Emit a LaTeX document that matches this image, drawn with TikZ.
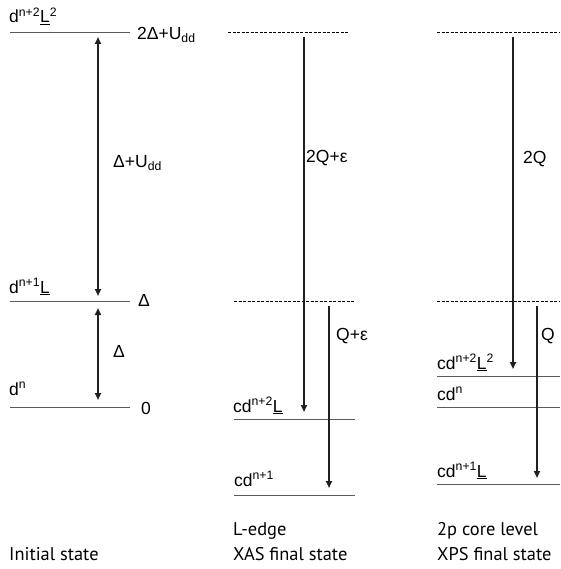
\documentclass[tikz,border=0pt]{standalone}
\usepackage{fontspec}
\setmainfont{Liberation Sans}
\newfontfamily\captionfont{PT Sans}
\usetikzlibrary{arrows.meta}
\definecolor{LevelGray}{HTML}{5A5A5A}
\definecolor{ArrowInk}{HTML}{231F20}
\newcommand{\Lbar}{\underline{L}}
\tikzset{
  level/.style={LevelGray,line width=0.9pt},
  virtual/.style={black,line width=0.9pt,dash pattern=on 3pt off 1.5pt},
  jump/.style={ArrowInk,line width=1.9pt,-{Triangle[length=7pt,width=6pt]}},
  twoway/.style={ArrowInk,line width=1.9pt,
    {Triangle[length=7pt,width=6pt]}-{Triangle[length=7pt,width=6pt]}},
  lbl/.style={inner sep=0pt,anchor=base west,font=\fontsize{17.5}{19}\selectfont},
  captext/.style={inner sep=0pt,anchor=base west,
    font=\captionfont\fontsize{18.4}{21}\selectfont}
}
\begin{document}
\begin{tikzpicture}[x=1pt,y=-1pt]
        \useasboundingbox (0,0) rectangle (560,569);

        \draw[level] (10,32) -- (130,32);
        \draw[level] (10,301) -- (130,301);
        \draw[level] (10,407) -- (130,407);

        \node[lbl] (ini-top) at (9,23) {d\textsuperscript{n+2}\Lbar\textsuperscript{2}};
        \node[lbl] (ini-mid) at (9,293) {d\textsuperscript{n+1}\Lbar};
        \node[lbl] (ini-low) at (9,395) {d\textsuperscript{n}};
        \node[lbl] (e-top) at (137,40) {2Δ+U\textsubscript{dd}};
        \node[lbl] (e-mid) at (138,306) {Δ};
        \node[lbl] (e-low) at (141,414) {0};

        \coordinate (ini-a1) at (98,37);
        \coordinate (ini-a2) at (98,296);
        \coordinate (ini-b1) at (98,308);
        \coordinate (ini-b2) at (98,400);
        \draw[twoway] (ini-a1) -- (ini-a2);
        \draw[twoway] (ini-b1) -- (ini-b2);
        \node[lbl] (gap-a) at (113,168) {Δ+U\textsubscript{dd}};
        \node[lbl] (gap-b) at (113,357) {Δ};

        \node[captext] (cap-ini) at (9,560) {Initial state};

        \draw[virtual] (228,32) -- (348,32);
        \draw[virtual] (234,301) -- (355,301);
        \draw[level] (234,419) -- (355,419);
        \draw[level] (234,495) -- (355,495);

        \node[lbl] (xas-a) at (233,412) {cd\textsuperscript{n+2}\Lbar};
        \node[lbl] (xas-b) at (234,486) {cd\textsuperscript{n+1}};

        \coordinate (xas-a1) at (304,37);
        \coordinate (xas-a2) at (304,412);
        \coordinate (xas-b1) at (329,306);
        \coordinate (xas-b2) at (329,488);
        \draw[jump] (xas-a1) -- (xas-a2);
        \draw[jump] (xas-b1) -- (xas-b2);
        \node[lbl] (xas-qa) at (306,163) {2Q+ε};
        \node[lbl] (xas-qb) at (336,340) {Q+ε};

        \node[captext] (cap-xas1) at (233,535) {L-edge};
        \node[captext] (cap-xas2) at (233,560) {XAS final state};

        \draw[virtual] (437,32) -- (560,32);
        \draw[virtual] (437,301) -- (560,301);
        \draw[level] (437,376) -- (560,376);
        \draw[level] (437,407) -- (560,407);
        \draw[level] (437,484) -- (560,484);

        \node[lbl] (xps-a) at (437,369) {cd\textsuperscript{n+2}\Lbar\textsuperscript{2}};
        \node[lbl] (xps-b) at (437,400) {cd\textsuperscript{n}};
        \node[lbl] (xps-c) at (437,477) {cd\textsuperscript{n+1}\Lbar};

        \coordinate (xps-a1) at (513,37);
        \coordinate (xps-a2) at (513,369);
        \coordinate (xps-b1) at (537,306);
        \coordinate (xps-b2) at (537,478);
        \draw[jump] (xps-a1) -- (xps-a2);
        \draw[jump] (xps-b1) -- (xps-b2);
        \node[lbl] (xps-qa) at (523,164) {2Q};
        \node[lbl] (xps-qb) at (541,340) {Q};

        \node[captext] (cap-xps1) at (437,535) {2p core level};
        \node[captext] (cap-xps2) at (437,560) {XPS final state};
\end{tikzpicture}
\end{document}
